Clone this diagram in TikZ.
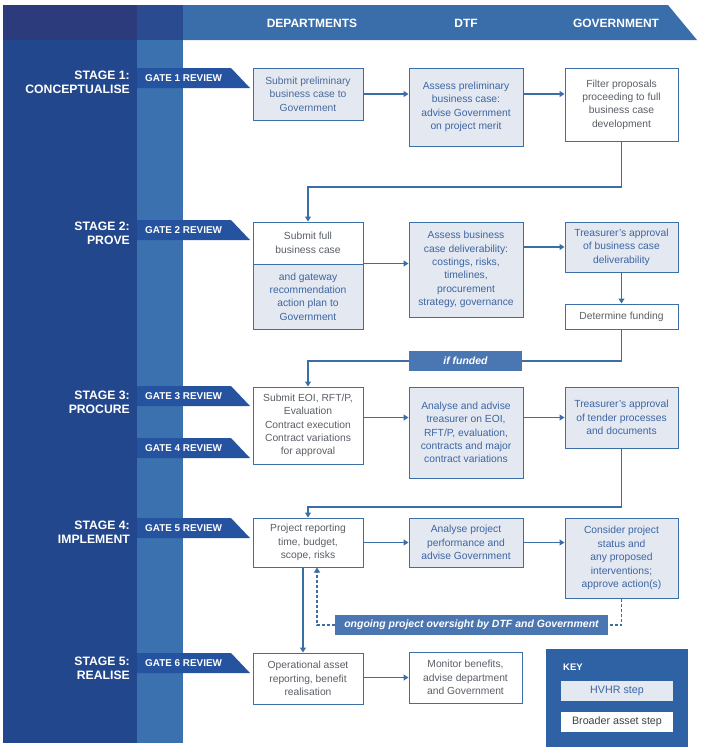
\documentclass[tikz,border=0pt]{standalone}
\usepackage{fontspec}
\setmainfont{Liberation Sans}
\usetikzlibrary{arrows.meta}
\definecolor{hdrdark}{HTML}{2B3B7B}
\definecolor{hdrmid}{HTML}{2A4B8F}
\definecolor{band}{HTML}{3A6EAA}
\definecolor{colA}{HTML}{22478D}
\definecolor{colB}{HTML}{3A71AE}
\definecolor{tabc}{HTML}{2653A0}
\definecolor{boxline}{HTML}{3C6FA8}
\definecolor{lightfill}{HTML}{E3E8F1}
\definecolor{bluetext}{HTML}{3D66A3}
\definecolor{greytext}{HTML}{5A5F66}
\definecolor{labelfill}{HTML}{4A76B2}
\definecolor{keyfill}{HTML}{2F62A4}
\definecolor{arrowc}{HTML}{3B6EA6}
\begin{document}
\begin{tikzpicture}[x=1pt,y=-1pt,
  hvhr/.style={draw=boxline, line width=1pt, fill=lightfill, text=bluetext, align=center, inner sep=2pt, font=\fontsize{10.3}{13.4}\selectfont},
  broad/.style={hvhr, fill=white, text=greytext},
  flowline/.style={draw=arrowc, line width=1.3pt},
  flowarrow/.style={flowline, -{Triangle[length=5pt,width=6pt]}},
  dashline/.style={flowline, dash pattern=on 3pt off 2pt},
  tagbox/.style={fill=labelfill, text=white, font=\bfseries\itshape\fontsize{10.5}{12}\selectfont, inner sep=0pt},
  stagelabel/.style={anchor=east, align=right, text=white, font=\bfseries\fontsize{12.2}{14}\selectfont, inner sep=0pt},
  gatetext/.style={anchor=west, text=white, font=\bfseries\fontsize{9.9}{11}\selectfont, inner sep=0pt},
  headtext/.style={text=white, font=\bfseries\fontsize{12}{13}\selectfont, inner sep=0pt}
]
\useasboundingbox (0,0) rectangle (702,755);
% header and columns
\fill[hdrdark] (3,5) rectangle (137,40);
\fill[hdrmid] (137,5) rectangle (183,40);
\fill[band] (183,5) -- (668,5) -- (697,40) -- (183,40) -- cycle;
\fill[colA] (3,40) rectangle (137,743);
\fill[colB] (137,40) rectangle (183,743);
\node[headtext] (hdep) at (312,23) {DEPARTMENTS};
\node[headtext] (hdtf) at (466,23) {DTF};
\node[headtext] (hgov) at (616,23) {GOVERNMENT};
% stage labels
\node[stagelabel] (st1) at (130,82) {STAGE 1:\\CONCEPTUALISE};
\node[stagelabel] (st2) at (130,233) {STAGE 2:\\PROVE};
\node[stagelabel] (st3) at (130,402) {STAGE 3:\\PROCURE};
\node[stagelabel] (st4) at (130,532) {STAGE 4:\\IMPLEMENT};
\node[stagelabel] (st5) at (130,668) {STAGE 5:\\REALISE};
% gate tabs
\fill[tabc] (137,68) -- (231,68) -- (250,88) -- (137,88) -- cycle;
\node[gatetext] (g1) at (145,78) {GATE 1 REVIEW};
\fill[tabc] (137,220) -- (231,220) -- (250,240) -- (137,240) -- cycle;
\node[gatetext] (g2) at (145,230) {GATE 2 REVIEW};
\fill[tabc] (137,386) -- (231,386) -- (250,406) -- (137,406) -- cycle;
\node[gatetext] (g3) at (145,396) {GATE 3 REVIEW};
\fill[tabc] (137,438) -- (231,438) -- (250,458) -- (137,458) -- cycle;
\node[gatetext] (g4) at (145,448) {GATE 4 REVIEW};
\fill[tabc] (137,518) -- (231,518) -- (250,538) -- (137,538) -- cycle;
\node[gatetext] (g5) at (145,528) {GATE 5 REVIEW};
\fill[tabc] (137,653) -- (231,653) -- (250,673) -- (137,673) -- cycle;
\node[gatetext] (g6) at (145,663) {GATE 6 REVIEW};
% stage 1
\node[hvhr, text=bluetext!80!gray, minimum width=110pt, minimum height=52pt] (b1) at (308,94) {Submit preliminary\\business case to\\Government};
\node[hvhr, minimum width=114pt, minimum height=78pt] (b2) at (466,107) {Assess preliminary\\business case:\\advise Government\\on project merit};
\node[broad, minimum width=113pt, minimum height=73pt] (b3) at (621.5,104.5) {Filter proposals\\proceeding to full\\business case\\development};
% stage 2
\node[broad, minimum width=110pt, minimum height=42pt] (s2top) at (308,243) {Submit full\\business case};
\node[hvhr, minimum width=110pt, minimum height=65pt] (s2bot) at (308,296.5) {and gateway\\recommendation\\action plan to\\Government};
\node[hvhr, minimum width=114pt, minimum height=95pt] (b5) at (466,269.5) {Assess business\\case deliverability:\\costings, risks,\\timelines,\\procurement\\strategy, governance};
\node[hvhr, minimum width=113pt, minimum height=50pt] (b6) at (621.5,247) {Treasurer's approval\\of business case\\deliverability};
\node[broad, minimum width=113pt, minimum height=25pt] (b7) at (621.5,316.5) {Determine funding};
\node[tagbox, minimum width=113pt, minimum height=20pt] (iff) at (465.5,361) {if funded};
% stage 3
\node[broad, minimum width=110pt, minimum height=77pt] (b8) at (308,425.5) {Submit EOI, RFT/P,\\Evaluation\\Contract execution\\Contract variations\\for approval};
\node[hvhr, minimum width=114pt, minimum height=91pt] (b9) at (466,432.5) {Analyse and advise\\treasurer on EOI,\\RFT/P, evaluation,\\contracts and major\\contract variations};
\node[hvhr, minimum width=113pt, minimum height=61pt] (b10) at (621.5,417.5) {Treasurer's approval\\of tender processes\\and documents};
% stage 4
\node[broad, minimum width=110pt, minimum height=49pt] (b11) at (308,542.5) {Project reporting\\time, budget,\\scope, risks};
\node[hvhr, minimum width=114pt, minimum height=49pt] (b12) at (466,542.5) {Analyse project\\performance and\\advise Government};
\node[hvhr, minimum width=113pt, minimum height=80pt] (b13) at (621.5,558) {Consider project\\status and\\any proposed\\interventions;\\approve action(s)};
\node[tagbox, minimum width=273pt, minimum height=20pt] (ongo) at (471.5,625) {ongoing project oversight by DTF and Government};
% stage 5
\node[broad, minimum width=110pt, minimum height=51pt] (b14) at (308,678.5) {Operational asset\\reporting, benefit\\realisation};
\node[broad, minimum width=113pt, minimum height=51pt] (b15) at (465.5,677.5) {Monitor benefits,\\advise department\\and Government};
% key
\fill[keyfill] (546,649) rectangle (688,747);
\node[anchor=west, text=white, font=\bfseries\fontsize{9.5}{11}\selectfont, inner sep=0pt] (keyt) at (563,667) {KEY};
\node[hvhr, draw=none, font=\fontsize{10.7}{12}\selectfont, minimum width=112pt, minimum height=20pt] (k1) at (617,691) {HVHR step};
\node[broad, draw=none, font=\fontsize{10.7}{12}\selectfont, text=black!75, minimum width=112pt, minimum height=20pt] (k2) at (617,722) {Broader asset step};
% connectors
\coordinate (t1) at (308,187);
\coordinate (t3) at (308,507);
\draw[flowarrow] (b1.east) -- (b2.west |- b1.east);
\draw[flowarrow] (b2.east |- b1.east) -- (b3.west |- b1.east);
\draw[flowarrow] (b3.south) |- (t1) -- (s2top.north);
\draw[flowarrow] (s2bot.north east) -- (b5.west |- s2bot.north east);
\draw[flowarrow] (b5.east |- b6.west) -- (b6.west);
\draw[flowarrow] (b6.south) -- (b7.north);
\draw[flowline] (b7.south) |- (iff.east);
\draw[flowarrow] (iff.west) -| (b8.north);
\draw[flowarrow] (b8.east |- b10.west) -- (b9.west |- b10.west);
\draw[flowarrow] (b9.east |- b10.west) -- (b10.west);
\draw[flowarrow] (b10.south) |- (t3) -- (b11.north);
\draw[flowarrow] (b11.east) -- (b12.west);
\draw[flowarrow] (b12.east) -- (b13.west |- b12.east);
\draw[flowarrow] ([xshift=-5pt]b11.south) -- ([xshift=-5pt]b14.north);
\draw[dashline, -{Triangle[length=5pt,width=6pt]}] (ongo.west) -| ([xshift=9pt]b11.south);
\draw[dashline] (b13.south) |- (ongo.east);
\draw[flowarrow] (b14.east |- b15.east) -- (b15.west);
\end{tikzpicture}
\end{document}
